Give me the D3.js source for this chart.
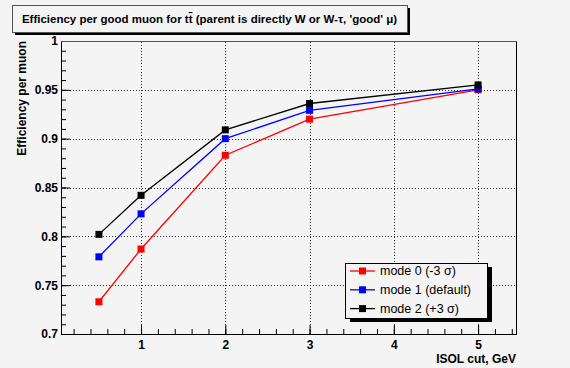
<!DOCTYPE html>
<html>
<head>
<meta charset="utf-8">
<script src="https://cdn.jsdelivr.net/npm/d3@7"></script>
<style>
  body { margin: 0; background: #f4f4f4; }
  text { font-family: "Liberation Sans", Arial, sans-serif; font-weight: bold; }
  text.plain { font-weight: normal; }
</style>
</head>
<body>
<script>
// data
const isolCut = [0.5, 1, 2, 3, 5];
const mode0 = [0.733, 0.787, 0.883, 0.920, 0.950];
const mode1 = [0.779, 0.823, 0.900, 0.929, 0.951];
const mode2 = [0.802, 0.842, 0.909, 0.936, 0.955];
const seriesNames = ["mode 0 (-3 \u03c3)", "mode 1 (default)", "mode 2 (+3 \u03c3)"];
const seriesColors = ["#ff0000", "#0000ff", "#000000"];
const xTicks = [1, 2, 3, 4, 5];
const yTicks = [0.7, 0.75, 0.8, 0.85, 0.9, 0.95, 1];

const W = 570, H = 368;
const margin = {top: 41, right: 54, bottom: 34, left: 61};

const svg = d3.select("body").append("svg")
    .attr("width", W)
    .attr("height", H);

svg.append("rect").attr("width", W).attr("height", H).attr("fill", "#f4f4f4");

const x = d3.scaleLinear()
    .domain([0.05, 5.45])
    .range([margin.left, W - margin.right]);

const y = d3.scaleLinear()
    .domain([0.7, 1])
    .range([H - margin.bottom, margin.top]);

const x0 = x.range()[0], x1 = x.range()[1];
const y0 = y.range()[0], y1 = y.range()[1];

// grid
const grid = svg.append("g")
    .attr("stroke", "#333")
    .attr("stroke-width", 1)
    .attr("stroke-dasharray", "1,2");
grid.selectAll(".gx").data(xTicks).enter().append("line")
    .attr("x1", d => Math.round(x(d)) + 0.5).attr("x2", d => Math.round(x(d)) + 0.5)
    .attr("y1", y0).attr("y2", y1);
grid.selectAll(".gy").data(yTicks.filter(d => d > 0.7)).enter().append("line")
    .attr("y1", d => Math.round(y(d)) + 0.5).attr("y2", d => Math.round(y(d)) + 0.5)
    .attr("x1", x0).attr("x2", x1);

// frame
svg.append("line").attr("x1", x1 + 0.5).attr("x2", x1 + 0.5).attr("y1", y1).attr("y2", y0 + 0.5)
    .attr("stroke", "#000");

// axes
const xAxis = d3.axisBottom(x)
    .tickValues(d3.range(0.2, 5.45, 0.2))
    .tickSizeInner(-5).tickSizeOuter(0).tickFormat("");
svg.append("g").attr("transform", `translate(0,${y0})`).call(xAxis)
    .call(g => g.select(".domain").remove());
const xMaj = d3.axisBottom(x)
    .tickValues(xTicks)
    .tickSizeInner(-9).tickSizeOuter(0).tickPadding(13).tickFormat(d3.format("d"));
svg.append("g").attr("transform", `translate(0,${y0})`).call(xMaj)
    .call(g => g.select(".domain").attr("d", `M${x0},0.5H${x1 + 1}`).attr("stroke", "#000"))
    .call(g => g.selectAll("text").attr("font-size", 12).attr("font-family", null).attr("dy", "0.2em"));

const yAxis = d3.axisLeft(y)
    .tickValues(d3.range(0.7, 1.0001, 0.01))
    .tickSizeInner(-5).tickSizeOuter(0).tickFormat("");
svg.append("g").attr("transform", `translate(${x0},0)`).call(yAxis)
    .call(g => g.select(".domain").remove());
const yMaj = d3.axisLeft(y)
    .tickValues(yTicks)
    .tickSizeInner(-9).tickSizeOuter(0).tickPadding(3)
    .tickFormat(d => d === 1 ? "1" : d3.format(".2~f")(d));
svg.append("g").attr("transform", `translate(${x0},0)`).call(yMaj)
    .call(g => g.select(".domain").attr("d", `M0.5,${y0 + 1}V${y1}`).attr("stroke", "#000"))
    .call(g => g.selectAll("text").attr("font-size", 12).attr("font-family", null).attr("x", -3));

// top frame line
svg.append("line").attr("x1", x0).attr("x2", x1 + 1).attr("y1", y1 + 0.5).attr("y2", y1 + 0.5)
    .attr("stroke", "#555");

// axis titles
svg.append("text")
    .attr("x", x1).attr("y", 363)
    .attr("text-anchor", "end").attr("font-size", 12)
    .text("ISOL cut, GeV");
svg.append("text")
    .attr("transform", `translate(26,${y1}) rotate(-90)`)
    .attr("text-anchor", "end").attr("font-size", 12)
    .text("Efficiency per muon");

// series
const allSeries = [mode0, mode1, mode2];
const line = d3.line()
    .x((d, i) => x(isolCut[i]))
    .y(d => y(d));

allSeries.forEach((vals, k) => {
  svg.append("path")
      .datum(vals)
      .attr("fill", "none")
      .attr("stroke", seriesColors[k])
      .attr("stroke-width", 1.3)
      .attr("d", line);
  svg.selectAll(".m" + k).data(vals).enter().append("rect")
      .attr("x", (d, i) => x(isolCut[i]) - 3.5)
      .attr("y", d => y(d) - 3.5)
      .attr("width", 7).attr("height", 7)
      .attr("fill", seriesColors[k]);
});

// legend
const lg = {x: 345, y: 263, w: 142, h: 55};
svg.append("rect").attr("x", lg.x + 5).attr("y", lg.y + 4).attr("width", lg.w).attr("height", lg.h).attr("fill", "#000");
svg.append("rect").attr("x", lg.x + 0.5).attr("y", lg.y + 0.5).attr("width", lg.w).attr("height", lg.h)
    .attr("fill", "#f4f4f4").attr("stroke", "#000");
const items = svg.selectAll(".legend-item")
    .data(seriesNames)
    .enter().append("g")
    .attr("transform", (d, i) => `translate(${lg.x},${lg.y + 8 + i * 18.8})`);
items.append("line")
    .attr("x1", 5).attr("x2", 30).attr("y1", 0).attr("y2", 0)
    .attr("stroke", (d, i) => seriesColors[i]).attr("stroke-width", 1.3);
items.append("rect")
    .attr("x", 14).attr("y", -3.5).attr("width", 7).attr("height", 7)
    .attr("fill", (d, i) => seriesColors[i]);
items.append("text")
    .attr("class", "plain")
    .attr("x", 35).attr("y", 0).attr("dy", "0.35em")
    .attr("font-size", 12.5)
    .text(d => d);

// title box
const tb = {x: 12, y: 5, w: 395, h: 27};
svg.append("rect").attr("x", tb.x + 3).attr("y", tb.y + 3).attr("width", tb.w).attr("height", tb.h).attr("fill", "#000");
svg.append("rect").attr("x", tb.x + 0.5).attr("y", tb.y + 0.5).attr("width", tb.w).attr("height", tb.h)
    .attr("fill", "#f4f4f4").attr("stroke", "#555");
const title = svg.append("text")
    .attr("x", tb.x + tb.w / 2).attr("y", tb.y + 18)
    .attr("text-anchor", "middle").attr("font-size", 11.5);
title.append("tspan").text("Efficiency per good muon for t");
title.append("tspan").attr("text-decoration", "overline").text("t");
title.append("tspan").text(" (parent is directly W or W-\u03c4, 'good' \u03bc)");
</script>
</body>
</html>
